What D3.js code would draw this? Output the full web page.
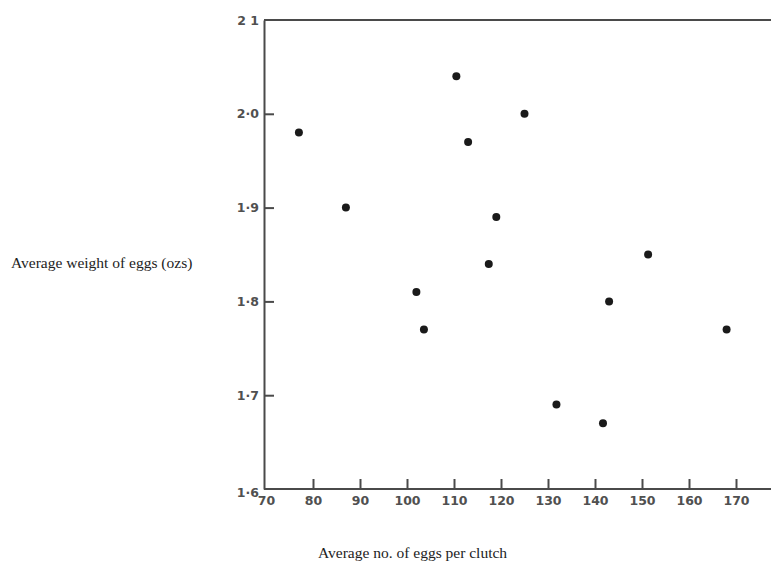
<!DOCTYPE html>
<html>
<head>
<meta charset="utf-8">
<script src="https://cdn.jsdelivr.net/npm/d3@7"></script>
<style>
  body { margin: 0; background: #fff; }
  svg { display: block; }
</style>
</head>
<body>
<div id="chart"></div>
<script>
// eggs per clutch vs. average egg weight
const clutchSize = [77, 87, 102, 103.6, 110.5, 113, 117.4, 119, 125, 131.8, 141.7, 143, 151.3, 168]
const eggWeight = [1.98, 1.90, 1.81, 1.77, 2.04, 1.97, 1.84, 1.89, 2.00, 1.69, 1.67, 1.80, 1.85, 1.77]

const xTicks = [70, 80, 90, 100, 110, 120, 130, 140, 150, 160, 170]
const yTicks = [1.6, 1.7, 1.8, 1.9, 2.0, 2.1]
const yTickLabels = ['1·6', '1·7', '1·8', '1·9', '2·0', '2 1']

const width = 771
const height = 562
const ink = '#4a4a4a'

const svg = d3.select('#chart')
  .append('svg')
  .attr('width', width)
  .attr('height', height)

const x = d3.scaleLinear().domain([70, 170]).range([266, 736])
const y = d3.scaleLinear().domain([1.6, 2.1]).range([489, 20])

// x axis, ticks pointing up into the plot
const xAxis = svg.append('g')
  .attr('transform', `translate(0,${y(1.6)})`)
  .call(d3.axisBottom(x).tickValues(xTicks).tickSizeInner(-10).tickSizeOuter(0).tickPadding(7))
xAxis.select('.domain').attr('d', `M${x(70) - 2},0H${width}`)

// y axis, ticks pointing right
const yAxis = svg.append('g')
  .attr('transform', `translate(${x(70) - 2},0)`)
  .call(d3.axisLeft(y).tickValues(yTicks).tickFormat((d, i) => yTickLabels[i]).tickSizeInner(-10).tickSizeOuter(0).tickPadding(5))

svg.selectAll('.domain, .tick line')
  .attr('stroke', ink)
  .attr('stroke-width', 2)

svg.selectAll('.tick text')
  .attr('fill', '#505050')
  .style('font-family', '"DejaVu Sans", sans-serif')
  .style('font-weight', 'bold')
  .style('font-size', '12.5px')

// the end ticks sit on the frame, hide them
xAxis.selectAll('.tick').filter(d => d === 70).select('line').remove()
yAxis.selectAll('.tick').filter(d => d === 1.6 || d === 2.1).select('line').remove()
yAxis.selectAll('.tick').filter(d => d === 1.6).select('text').attr('dy', '0.6em')

// top frame line
svg.append('line')
  .attr('x1', x(70) - 2)
  .attr('x2', width)
  .attr('y1', y(2.1))
  .attr('y2', y(2.1))
  .attr('stroke', ink)
  .attr('stroke-width', 2)

// points
svg.append('g')
  .selectAll('circle')
  .data(clutchSize)
  .enter()
  .append('circle')
  .attr('cx', d => x(d))
  .attr('cy', (d, i) => y(eggWeight[i]))
  .attr('r', 4)
  .attr('fill', '#1a1a1a')

// axis titles
svg.append('text')
  .attr('x', 11)
  .attr('y', 268)
  .style('font-family', '"Liberation Serif", serif')
  .style('font-size', '15.5px')
  .attr('fill', '#222')
  .text('Average weight of eggs (ozs)')

svg.append('text')
  .attr('x', 318)
  .attr('y', 558)
  .style('font-family', '"Liberation Serif", serif')
  .style('font-size', '15.5px')
  .attr('fill', '#222')
  .text('Average no. of eggs per clutch')
</script>
</body>
</html>
